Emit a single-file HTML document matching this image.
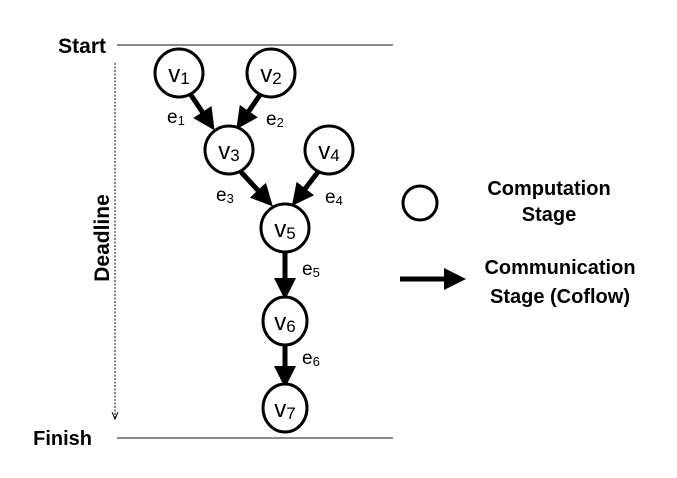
<!DOCTYPE html>
<html><head><style>body{margin:0;background:#fff}</style></head><body>
<svg width="677" height="473" xmlns="http://www.w3.org/2000/svg" font-family="Liberation Sans, sans-serif">
<defs>
<marker id="a" markerWidth="4.4" markerHeight="4.4" refX="2.4" refY="2.2" orient="auto" markerUnits="strokeWidth"><path d="M0,0L4.4,2.2L0,4.4z" fill="#000"/></marker>
<marker id="d" markerWidth="8" markerHeight="8" refX="6" refY="4" orient="auto" markerUnits="userSpaceOnUse"><path d="M0,1L7,4L0,7" fill="none" stroke="#000" stroke-width="1"/></marker>
</defs>
<line x1="117" y1="45" x2="393" y2="45" stroke="#444" stroke-width="1.3"/>
<line x1="117" y1="438" x2="393" y2="438" stroke="#444" stroke-width="1.3"/>
<text x="106" y="53" font-size="21" font-weight="bold" text-anchor="end">Start</text>
<text x="92" y="445" font-size="20" font-weight="bold" text-anchor="end">Finish</text>
<line x1="115" y1="63" x2="115" y2="418" stroke="#000" stroke-width="1" stroke-dasharray="2,1.5" marker-end="url(#d)"/>
<text transform="translate(109,238) rotate(-90)" font-size="21" font-weight="bold" text-anchor="middle">Deadline</text>
<g stroke="#000" stroke-width="5" marker-end="url(#a)">
<line x1="191" y1="95" x2="209" y2="122"/>
<line x1="260" y1="95" x2="242" y2="121"/>
<line x1="241" y1="172" x2="266" y2="199"/>
<line x1="318" y1="172" x2="298" y2="198"/>
<line x1="285" y1="252" x2="285" y2="290"/>
<line x1="285" y1="345" x2="285" y2="378"/>
</g>
<g fill="#fff" stroke="#000" stroke-width="3">
<circle cx="179" cy="73" r="24"/><circle cx="271" cy="73" r="24"/>
<circle cx="229" cy="150" r="24"/><circle cx="329" cy="150" r="24"/>
<circle cx="285" cy="228" r="24"/>
<ellipse cx="285" cy="321" rx="22" ry="24"/><ellipse cx="285" cy="408" rx="22" ry="24"/>
<circle cx="420" cy="203" r="17"/>
</g>
<g font-size="24" text-anchor="middle">
<text x="179" y="82">v<tspan font-size="17" dy="2">1</tspan></text>
<text x="271" y="82">v<tspan font-size="17" dy="2">2</tspan></text>
<text x="229" y="159">v<tspan font-size="17" dy="2">3</tspan></text>
<text x="329" y="159">v<tspan font-size="17" dy="2">4</tspan></text>
<text x="285" y="237">v<tspan font-size="17" dy="2">5</tspan></text>
<text x="285" y="330">v<tspan font-size="17" dy="2">6</tspan></text>
<text x="285" y="417">v<tspan font-size="17" dy="2">7</tspan></text>
</g>
<g font-size="19">
<text x="167" y="123">e<tspan font-size="13" dy="2">1</tspan></text>
<text x="266" y="125">e<tspan font-size="13" dy="2">2</tspan></text>
<text x="216" y="201">e<tspan font-size="13" dy="2">3</tspan></text>
<text x="325" y="203">e<tspan font-size="13" dy="2">4</tspan></text>
<text x="302" y="275">e<tspan font-size="13" dy="2">5</tspan></text>
<text x="302" y="364">e<tspan font-size="13" dy="2">6</tspan></text>
</g>
<line x1="400" y1="279" x2="456" y2="279" stroke="#000" stroke-width="5" marker-end="url(#a)"/>
<g font-size="20" font-weight="bold" text-anchor="middle">
<text x="549" y="195">Computation</text>
<text x="549" y="221">Stage</text>
<text x="560" y="274">Communication</text>
<text x="560" y="303">Stage (Coflow)</text>
</g>
</svg>
</body></html>
